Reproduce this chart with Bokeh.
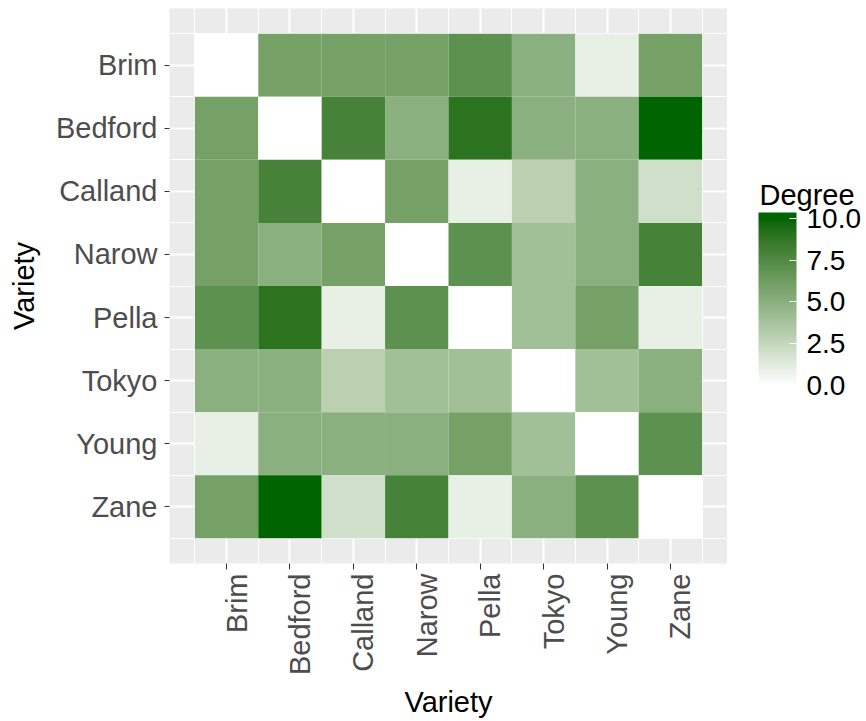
import math
import numpy as np
from bokeh.plotting import figure
from bokeh.layouts import row
from bokeh.models import (LinearColorMapper, ColorBar, FixedTicker, PrintfTickFormatter,
                          ColumnDataSource, Label, Range1d, LinearAxis)
from bokeh.transform import transform
from bokeh.embed import file_html
from bokeh.resources import INLINE

# ---------------- data ----------------
varieties = ["Brim", "Bedford", "Calland", "Narow", "Pella", "Tokyo", "Young", "Zane"]
row_brim = [0, 6, 6, 6, 7, 5, 1, 6]
row_bedford = [6, 0, 8, 5, 9, 5, 5, 10]
row_calland = [6, 8, 0, 6, 1, 3, 5, 2]
row_narow = [6, 5, 6, 0, 7, 4, 5, 8]
row_pella = [7, 9, 1, 7, 0, 4, 6, 1]
row_tokyo = [5, 5, 3, 4, 4, 0, 4, 5]
row_young = [1, 5, 5, 5, 6, 4, 0, 7]
row_zane = [6, 10, 2, 8, 1, 5, 7, 0]
legend_ticks = [0.0, 2.5, 5.0, 7.5, 10.0]
legend_title = "Degree"
axis_title = "Variety"

rows = [row_brim, row_bedford, row_calland, row_narow,
        row_pella, row_tokyo, row_young, row_zane]

# ---------------- colour ramp (CIELAB, white -> darkgreen) ----------------
def _hex_to_lab(h):
    c = np.array([int(h[i:i + 2], 16) for i in (1, 3, 5)]) / 255.0
    lin = np.where(c <= 0.04045, c / 12.92, ((c + 0.055) / 1.055) ** 2.4)
    M = np.array([[0.4124564, 0.3575761, 0.1804375],
                  [0.2126729, 0.7151522, 0.0721750],
                  [0.0193339, 0.1191920, 0.9503041]])
    xyz = M @ lin / np.array([0.95047, 1.0, 1.08883])
    d = 6 / 29
    f = np.where(xyz > d ** 3, np.cbrt(xyz), xyz / (3 * d * d) + 4 / 29)
    return np.array([116 * f[1] - 16, 500 * (f[0] - f[1]), 200 * (f[1] - f[2])])

def _lab_to_hex(lab):
    L, a, b = lab
    fy = (L + 16) / 116
    fx = fy + a / 500
    fz = fy - b / 200
    d = 6 / 29
    fv = np.array([fx, fy, fz])
    xyz = np.where(fv > d, fv ** 3, 3 * d * d * (fv - 4 / 29)) * np.array([0.95047, 1.0, 1.08883])
    Minv = np.array([[3.2404542, -1.5371385, -0.4985314],
                     [-0.9692660, 1.8760108, 0.0415560],
                     [0.0556434, -0.2040259, 1.0572252]])
    lin = np.clip(Minv @ xyz, 0, 1)
    c = np.where(lin <= 0.0031308, 12.92 * lin, 1.055 * lin ** (1 / 2.4) - 0.055)
    c = np.clip(np.round(c * 255), 0, 255).astype(int)
    return "#%02x%02x%02x" % tuple(c)

LOW_VAL, HIGH_VAL = 0, 10
NCOL = 256
lab_lo = _hex_to_lab("#ffffff")
lab_hi = _hex_to_lab("#006400")
palette = [_lab_to_hex(lab_lo + (lab_hi - lab_lo) * t) for t in np.linspace(0, 1, NCOL)]

mapper = LinearColorMapper(palette=palette, low=LOW_VAL, high=HIGH_VAL)

# the guide bar extends a little beyond the top break (as ggplot's bar does)
extra_bins = 9
cb_mapper = LinearColorMapper(palette=palette + [palette[-1]] * extra_bins, low=LOW_VAL,
                              high=HIGH_VAL + extra_bins * (HIGH_VAL - LOW_VAL) / NCOL)

# ---------------- source ----------------
n = len(varieties)
xs, ys, vals = [], [], []
for i, r in enumerate(rows):
    for j, v in enumerate(r):
        xs.append(j + 1)
        ys.append(n - i)
        vals.append(v)
source = ColumnDataSource(dict(x=xs, y=ys, value=vals))

FONT = "Liberation Sans"
FW, FH = 558, 555
TOP, BOTTOM = 8, 158
LO, HI = 0.1, 8.9
px_per_unit = FW / (HI - LO)
label_shift = 10 / px_per_unit   # ggplot puts rotated labels slightly right of the tick

p = figure(frame_width=FW, frame_height=FH,
           x_range=Range1d(LO, HI), y_range=Range1d(LO, HI),
           output_backend="svg", toolbar_location=None,
           min_border_left=169, min_border_right=0, min_border_top=TOP,
           min_border_bottom=BOTTOM)
p.background_fill_color = "#EBEBEB"
p.border_fill_color = "white"
p.outline_line_color = None

p.rect(x="x", y="y", width=1, height=1, source=source,
       fill_color=transform("value", mapper), line_color=None)

major = list(range(1, n + 1))
minor = [k + 0.5 for k in range(0, n + 1)]

# y axis
ya = p.yaxis[0]
ya.ticker = FixedTicker(ticks=major, minor_ticks=minor)
ya.axis_line_color = None
ya.major_tick_line_color = "#333333"
ya.major_tick_in = 0
ya.major_tick_out = 5
ya.minor_tick_line_color = None
ya.major_label_standoff = 7
ya.major_label_overrides = {k: varieties[n - k] for k in major}
ya.major_label_text_font = FONT
ya.major_label_text_font_size = "29px"
ya.major_label_text_color = "#4D4D4D"
ya.axis_label = axis_title
ya.axis_label_standoff = 13
ya.axis_label_text_font = FONT
ya.axis_label_text_font_size = "29px"
ya.axis_label_text_font_style = "normal"
ya.axis_label_text_color = "black"

# x axis: tick marks only
xa = p.xaxis[0]
xa.ticker = FixedTicker(ticks=major, minor_ticks=minor)
xa.axis_line_color = None
xa.major_tick_line_color = "#333333"
xa.major_tick_in = 0
xa.major_tick_out = 6
xa.minor_tick_line_color = None
xa.major_label_standoff = 0
xa.major_label_overrides = {k: "" for k in major}
xa.major_label_text_font_size = "1px"

# x axis: labels (rotated, reading upwards, offset right of tick like ggplot)
p.extra_x_ranges = {"lab": Range1d(LO - label_shift, HI - label_shift)}
xl = LinearAxis(x_range_name="lab", ticker=FixedTicker(ticks=major),
                major_label_overrides={k: varieties[k - 1] for k in major})
xl.major_label_orientation = math.pi / 2
xl.axis_line_color = None
xl.major_tick_line_color = None
xl.major_tick_out = 0
xl.major_tick_in = 0
xl.minor_tick_line_color = None
xl.major_label_standoff = 4
xl.major_label_text_font = FONT
xl.major_label_text_font_size = "29px"
xl.major_label_text_color = "#4D4D4D"
xl.axis_label = axis_title
xl.axis_label_standoff = 8
xl.axis_label_text_font = FONT
xl.axis_label_text_font_size = "29px"
xl.axis_label_text_font_style = "normal"
xl.axis_label_text_color = "black"
p.add_layout(xl, "below")

for g in (p.xgrid[0], p.ygrid[0]):
    g.ticker = FixedTicker(ticks=major, minor_ticks=minor)
    g.grid_line_color = "white"
    g.grid_line_width = 2
    g.minor_grid_line_color = "white"
    g.minor_grid_line_width = 1

# ---------------- legend panel (frame aligned with the main frame) ----------------
LW, LH = 866 - 727, 721
leg = figure(frame_width=LW, frame_height=FH,
             x_range=Range1d(0, LW), y_range=Range1d(BOTTOM, LH - TOP),
             x_axis_type=None, y_axis_type=None, output_backend="svg",
             toolbar_location=None, min_border_left=0, min_border_right=0,
             min_border_top=TOP, min_border_bottom=BOTTOM)
leg.outline_line_color = None
leg.background_fill_color = "white"
leg.border_fill_color = "white"
leg.grid.visible = False

cb = ColorBar(color_mapper=cb_mapper, ticker=FixedTicker(ticks=legend_ticks),
              formatter=PrintfTickFormatter(format="%.1f"),
              location=(31, 178), width=38, height=173, padding=0,
              major_label_text_font=FONT, major_label_text_font_size="28px",
              major_label_text_color="black", label_standoff=10,
              major_tick_in=7, major_tick_out=0, major_tick_line_color="white",
              major_tick_line_width=1, minor_tick_line_color=None,
              bar_line_color=None, border_line_color=None, background_fill_color=None)
leg.add_layout(cb, "center")
leg.add_layout(Label(x=32, y=527, text=legend_title, text_align="left",
                     text_baseline="alphabetic", text_font=FONT,
                     text_font_size="29px", text_color="black"))

layout = row(p, leg)
open("out.html", "w").write(file_html(layout, INLINE))
